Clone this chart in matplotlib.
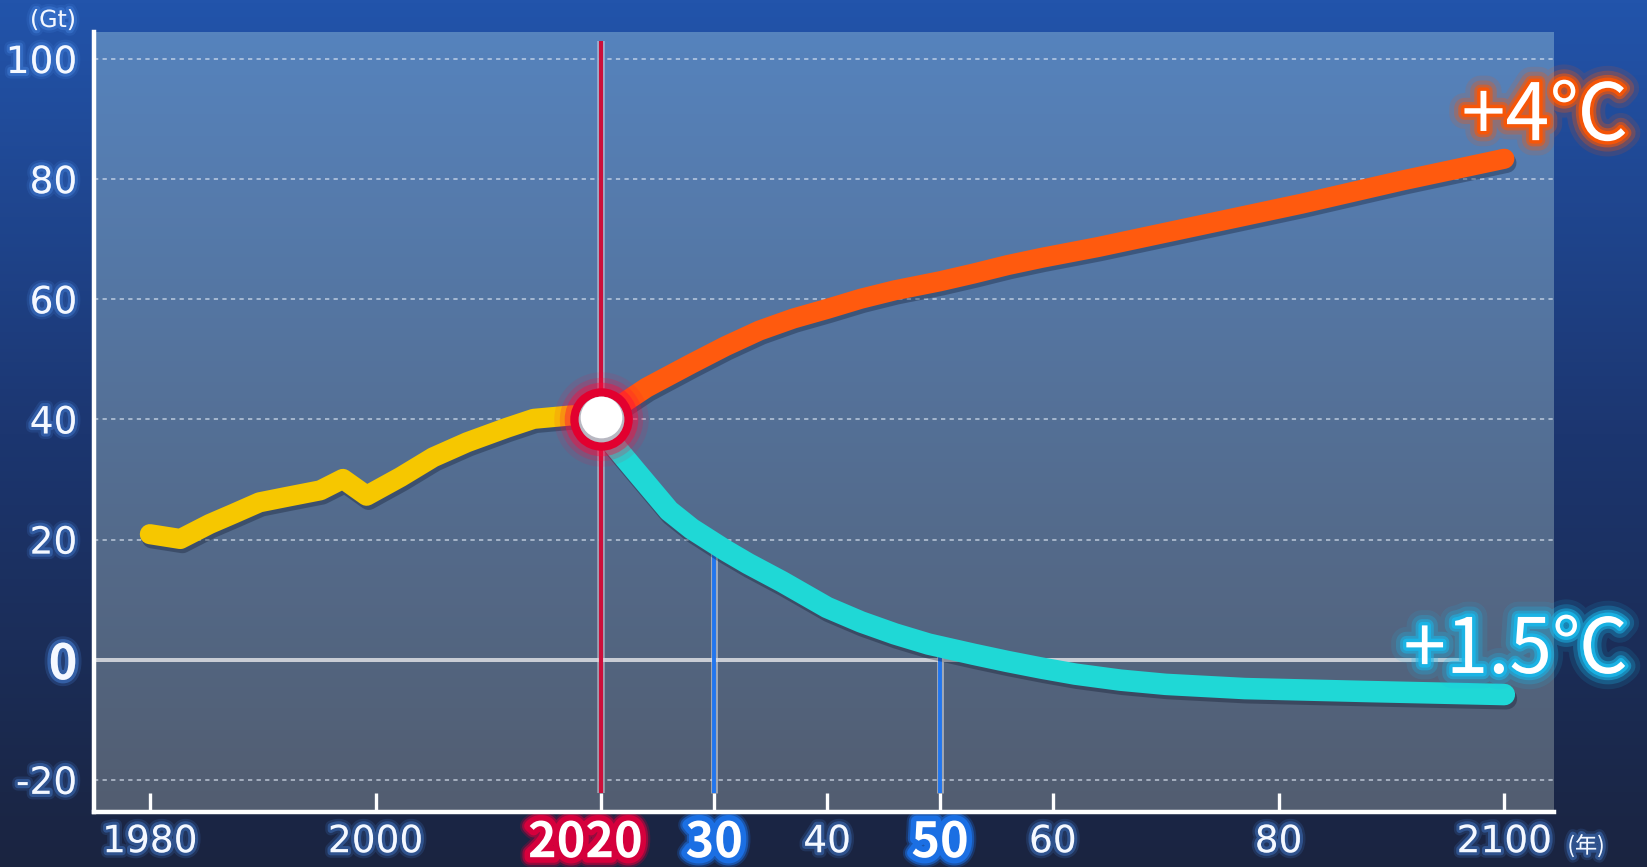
import numpy as np
import matplotlib
matplotlib.use('Agg')
import matplotlib.pyplot as plt
import matplotlib.patheffects as pe
from matplotlib.colors import LinearSegmentedColormap
from matplotlib.transforms import ScaledTranslation

# ---------------- data ----------------
hist_years = [1980, 1982.7, 1985.3, 1987.4, 1989.7, 1992.1, 1995.1, 1997.1, 1999.2,
              2002.2, 2005.1, 2008.1, 2011.6, 2014, 2017.5, 2020]
hist_vals = [20.9, 20.1, 22.6, 24.3, 26.2, 27.1, 28.2, 30.1, 27.3,
             30.4, 33.7, 36.2, 38.6, 40.1, 40.7, 40.0]

s4_years = [2020, 2022, 2024, 2028, 2031, 2034, 2037, 2040, 2043, 2046, 2050, 2053,
            2056, 2059, 2064, 2073, 2082, 2091, 2100]
s4_vals = [40.0, 42.8, 45.3, 49.3, 52.2, 54.8, 56.8, 58.4, 60.1, 61.5, 63.0, 64.3,
           65.7, 66.9, 68.7, 72.3, 75.9, 79.8, 83.4]

s15_years = [2020, 2021, 2023, 2026, 2028, 2031, 2033, 2036, 2040, 2043, 2046, 2049,
             2053, 2056, 2059, 2062, 2066, 2070, 2077, 2088, 2100]
s15_vals = [40.0, 36.0, 31.5, 24.8, 21.8, 18.2, 16.0, 13.0, 8.7, 6.3, 4.3, 2.6,
            0.9, -0.3, -1.4, -2.4, -3.4, -4.1, -4.8, -5.3, -5.8]

x_ticks = [1980, 2000, 2020, 2030, 2040, 2050, 2060, 2080, 2100]
x_labels = ['1980', '2000', '2020', '30', '40', '50', '60', '80', '2100']
y_ticks = [-20, 0, 20, 40, 60, 80, 100]
y_labels = ['-20', '0', '20', '40', '60', '80', '100']
grid_vals = [-20, 20, 40, 60, 80, 100]
marker_years = [2030, 2050]
label_4 = '+4℃'
label_15 = '+1.5℃'
unit_y = '(Gt)'
unit_x = '(年)'

XMIN, XMAX = 1975.05, 2104.4
YMIN, YMAX = -25.3, 104.45

JP = ['Noto Sans CJK JP', 'DejaVu Sans']

W, H = 1647, 867
fig = plt.figure(figsize=(W / 100, H / 100), dpi=100)

# figure background gradient
bg = fig.add_axes([0, 0, 1, 1], zorder=-10)
bg_cmap = LinearSegmentedColormap.from_list(
    'bg', [(0, '#1a2440'), (0.5, '#1c3670'), (1, '#2254ab')])
grad = np.linspace(0, 1, 256).reshape(-1, 1)
bg.imshow(grad, aspect='auto', cmap=bg_cmap, origin='lower', extent=[0, 1, 0, 1])
bg.set_axis_off()

ax = fig.add_axes([94 / W, (H - 811.7) / H, 1460 / W, 779.4 / H])
ax.set_facecolor('none')
plot_cmap = LinearSegmentedColormap.from_list('pa', ['#525d70', '#5683bd'])
ax.imshow(grad, aspect='auto', cmap=plot_cmap, origin='lower',
          extent=[XMIN, XMAX, YMIN, YMAX], zorder=0)
ax.set_xlim(XMIN, XMAX)
ax.set_ylim(YMIN, YMAX)

# gridlines
for g in grid_vals:
    ax.axhline(g, color='#dfe8f5', alpha=0.75, lw=1.1, ls=(0, (2.8, 2.8)), zorder=1)
# zero line
ax.axhline(0, xmax=(2097 - XMIN) / (XMAX - XMIN), color='#c9cdd5', lw=2.9, zorder=1.5)

# vertical reference lines
bottom_v = -22.2
ax.vlines(2020, bottom_v, 103, colors='#dfe2ea', lw=5.4, alpha=0.55, zorder=2)
ax.vlines(2020, bottom_v, 103, colors='#cc0f3a', lw=3.0, zorder=2.1)
for yr in marker_years:
    top = float(np.interp(yr, s15_years, s15_vals))
    ax.vlines(yr, bottom_v, top, colors='#dfe2ea', lw=5.0, alpha=0.55, zorder=2)
    ax.vlines(yr, bottom_v, top, colors='#2276ee', lw=2.8, zorder=2.1)

# lines
def tube():
    return [pe.SimpleLineShadow(offset=(1.5, -3.0), shadow_color='#0c1428', alpha=0.32),
            pe.Normal()]

LW = 14.5
ax.plot(hist_years, hist_vals, color='#f6c700', lw=LW, solid_capstyle='round',
        solid_joinstyle='round', zorder=3, path_effects=tube())
ax.plot(s4_years, s4_vals, color='#ff5a0e', lw=LW, solid_capstyle='round',
        solid_joinstyle='round', zorder=3, path_effects=tube())
ax.plot(s15_years, s15_vals, color='#1fd8d6', lw=LW + 1.0, solid_capstyle='round',
        solid_joinstyle='round', zorder=3, path_effects=tube())

# junction point
px, py = hist_years[-1], hist_vals[-1]
for ms, a in [(68, 0.10), (60, 0.2), (53, 0.4)]:
    ax.plot(px, py, 'o', ms=ms, color='#ff0a3c', alpha=a, mew=0, zorder=4)
ax.plot(px, py, 'o', ms=45, color='#e2002f', mew=0, zorder=4.1)
ax.plot(px, py, 'o', ms=33, color='#b8b8c2', mew=0, zorder=4.2)
ax.plot(px, py, 'o', ms=30, color='white', mew=0, zorder=4.3,
        transform=ax.transData + ScaledTranslation(0, 0.02, fig.dpi_scale_trans))

# spines
for s in ['top', 'right']:
    ax.spines[s].set_visible(False)
for s in ['left', 'bottom']:
    ax.spines[s].set_color('white')
    ax.spines[s].set_linewidth(3.2)
    ax.spines[s].set_zorder(5)

def glow(color, widths, alphas):
    effs = [pe.Stroke(linewidth=w, foreground=color, alpha=a) for w, a in zip(widths, alphas)]
    effs.append(pe.Normal())
    return effs

soft = glow('#4a8ae6', (8, 4.5), (0.16, 0.36))

ax.set_xticks(x_ticks)
ax.set_xticklabels(x_labels)
ax.set_yticks(y_ticks)
ax.set_yticklabels(y_labels)
ax.tick_params(axis='x', direction='in', length=13.7, width=2.4, color='white', pad=9)
ax.tick_params(axis='y', length=0, pad=12)

for lab in ax.get_xticklabels() + ax.get_yticklabels():
    lab.set_family('DejaVu Sans')
    lab.set_fontsize(27)
    lab.set_color('#f4f8ff')
    lab.set_path_effects(soft)

special = {'2020': '#d5003c', '30': '#1b6fe3', '50': '#1b6fe3'}
for lab in ax.get_xticklabels():
    t = lab.get_text()
    if t in special:
        lab.set_family(JP)
        lab.set_fontweight('bold')
        lab.set_fontsize(35)
        lab.set_color('white')
        lab.set_path_effects(glow(special[t], (14, 11, 8), (0.25, 0.55, 1.0)))
        dx = -0.16 if t == '2020' else 0.0
        lab.set_transform(lab.get_transform() +
                          ScaledTranslation(dx, 0.06, fig.dpi_scale_trans))

for lab in ax.get_yticklabels():
    if lab.get_text() == '0':
        lab.set_family(JP)
        lab.set_fontweight('bold')
        lab.set_fontsize(35)
        lab.set_path_effects(glow('#4a8ae6', (9, 5), (0.2, 0.45)))

# series labels
ax.text(2111.0, 86.5, label_4, ha='right', va='baseline', fontsize=57, family=JP,
        color='white', clip_on=False, zorder=6,
        path_effects=glow('#ff5500', (22, 15, 9, 5), (0.12, 0.25, 0.5, 0.85)))
ax.text(2111.0, -2.2, label_15, ha='right', va='baseline', fontsize=55, family=JP,
        color='white', clip_on=False, zorder=6,
        path_effects=glow('#19b8ea', (22, 15, 9, 5), (0.12, 0.25, 0.5, 0.85)))

# units
fig.text(53 / W, 1 - 20 / H, unit_y, ha='center', va='center', fontsize=17,
         family='DejaVu Sans', color='#f4f8ff', path_effects=soft)
fig.text(1586 / W, 1 - 846 / H, unit_x, ha='center', va='center', fontsize=16,
         family=JP, color='#f4f8ff', path_effects=soft)

fig.savefig('out.png', dpi=100)
